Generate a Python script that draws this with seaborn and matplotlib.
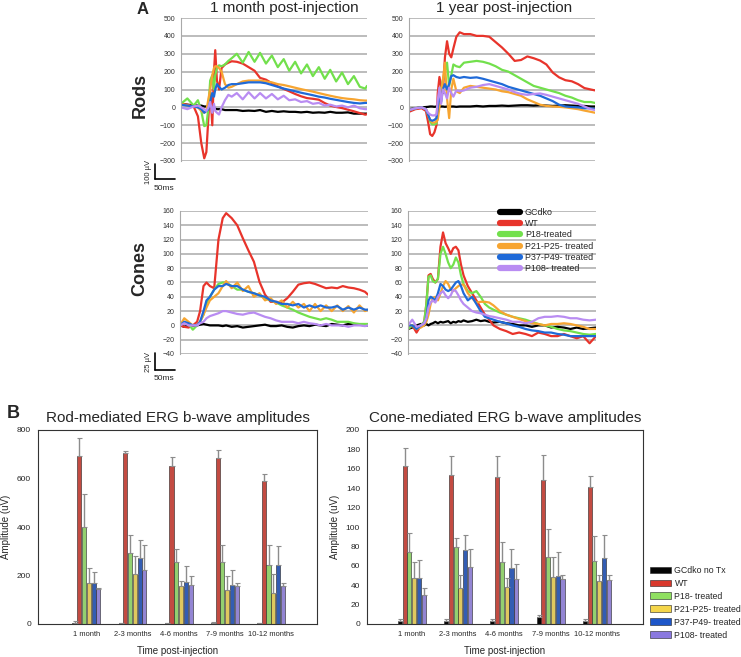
import numpy as np
import pandas as pd
import matplotlib
matplotlib.use("Agg")
import matplotlib.pyplot as plt
import seaborn as sns
from matplotlib.lines import Line2D
from matplotlib.patches import Patch

sns.set_style("white")
plt.rcParams['font.family'] = ['Liberation Sans', 'DejaVu Sans']

W, H = 741, 657

# ---------------- ERG traces (panel A) ----------------
trace_groups = ["GCdko", "WT", "P18-treated", "P21-P25- treated", "P37-P49- treated", "P108- treated"]
trace_colors = ["#000000", "#e8342b", "#72e04c", "#f7a531", "#1f6ad8", "#b98cf2"]

# rods, 1 month post-injection (time in ms, amplitude in uV)
t_rod_1mo = [0, 15, 30, 40, 48, 55, 60, 65, 69, 74, 78, 81, 85, 90, 96, 104, 112, 120, 132, 146, 160, 174, 187, 201,
             215, 229, 243, 256, 270, 284, 298, 312, 326, 340, 353, 367, 381, 395, 409, 423, 436, 440]
rod_1mo_gcdko = [20, 15, 12, 10, 10, 5, 5, 0, 0, -5, -5, -8, -10, -10, -10, -15, -15, -15, -15, -20, -18, -20, -15, -25,
                 -20, -25, -22, -25, -25, -28, -25, -30, -28, -30, -25, -30, -30, -28, -35, -35, -35, -35]
rod_1mo_wt = [20, 15, 5, -50, -200, -285, -250, -50, 100, -100, 200, 320, 150, 100, 220, 240, 250, 258, 255, 245, 225, 205,
              165, 155, 135, 118, 103, 90, 75, 62, 52, 48, 43, 24, 10, 2, -4, -13, -22, -32, -41, -38]
rod_1mo_p18 = [20, 50, 10, 40, -20, -105, -100, 0, 150, 180, 100, 180, 220, 235, 230, 240, 260, 275, 300, 250, 310, 255,
               305, 245, 290, 225, 270, 205, 255, 190, 240, 175, 225, 160, 210, 145, 195, 130, 175, 115, 105, 120]
rod_1mo_p21 = [20, 10, 5, 0, -20, -30, -20, 50, 100, 180, 220, 230, 230, 220, 200, 130, 110, 115, 130, 145, 150, 150,
               150, 145, 140, 130, 125, 118, 110, 102, 95, 88, 80, 72, 65, 58, 52, 48, 45, 40, 38, 38]
rod_1mo_p37 = [15, 10, 5, 0, -10, -30, -20, -10, 30, 80, 60, 100, 130, 115, 100, 110, 125, 130, 130, 135, 140, 140,
               140, 135, 125, 115, 105, 98, 90, 82, 75, 68, 60, 55, 48, 42, 36, 30, 25, 22, 25, 25]
rod_1mo_p108 = [0, -10, 5, 10, 0, -10, -20, 0, 30, -30, 20, -20, -30, -40, 0, 40, 70, 60, 80, 45, 85, 50, 80, 50, 75,
                45, 65, 40, 45, 30, 35, 20, 25, 10, 15, 5, 10, 0, 10, -5, -10, -10]

# rods, 1 year post-injection
t_rod_1yr = [0, 15, 30, 40, 45, 50, 55, 60, 65, 68, 72, 76, 80, 85, 90, 95, 100, 105, 112, 120, 130, 145, 160, 175,
             190, 205, 220, 235, 250, 265, 280, 295, 310, 325, 340, 355, 370, 385, 400, 415, 430, 440]
rod_1yr_gcdko = [-10, -5, 0, 2, 3, 5, 5, 3, 5, 5, 3, 5, 5, 3, 5, 5, 5, 5, 3, 5, 5, 5, 8, 5, 8, 8, 10, 8, 10, 12, 12,
                 10, 12, 10, 8, 10, 12, 10, 8, 8, 5, 5]
rod_1yr_wt = [-25, -10, -5, -20, -80, -150, -160, -140, -100, 80, 170, 120, 80, 280, 370, 300, 280, 330, 395, 420, 410,
              410, 400, 400, 395, 365, 335, 300, 260, 265, 285, 275, 262, 240, 195, 168, 152, 146, 130, 108, 100, 95]
rod_1yr_p18 = [-15, -5, 0, -10, -40, -80, -95, -95, -90, -20, 50, 100, 150, 200, 250, 120, 180, 240, 230, 225, 250,
               255, 260, 255, 245, 230, 210, 200, 180, 160, 140, 120, 110, 100, 90, 80, 65, 55, 40, 30, 30, 25]
rod_1yr_p21 = [-15, -5, 0, -10, -40, -70, -85, -85, -80, -70, 0, 80, 150, 250, 50, -60, 100, 160, 90, 80, 110, 120,
               115, 110, 105, 100, 90, 85, 75, 65, 45, 30, 15, 8, 5, 3, 0, -5, -10, -18, -25, -30]
rod_1yr_p37 = [-15, -5, 0, -10, -40, -70, -75, -70, -60, 0, 60, 30, 100, 130, 100, 130, 175, 180, 170, 165, 170, 165,
               168, 160, 150, 140, 130, 115, 105, 95, 85, 75, 65, 50, 35, 15, 5, 2, 0, -5, -5, -10]
rod_1yr_p108 = [-15, -5, 0, -10, -30, -40, -45, -45, -40, 40, 110, 20, 100, 80, 50, 110, 80, 60, 95, 90, 95, 110, 115,
                125, 130, 120, 110, 100, 85, 75, 70, 75, 78, 70, 60, 50, 40, 30, 20, 5, -10, -15]

# cones, 1 month post-injection
t_cone_1mo = [0, 10, 20, 30, 40, 47, 55, 62, 70, 80, 90, 100, 108, 121, 134, 147, 160, 173, 186, 199, 212, 225, 238,
              251, 264, 277, 290, 303, 316, 329, 342, 355, 368, 381, 394, 407, 420, 433, 440]
cone_1mo_gcdko = [0, -2, 0, -1, 0, 1, 2, 1, 0, 0, 0, -1, 0, -2, -1, -3, -2, -1, 0, 1, -1, -1, 0, -2, -3, -1, 0, -1, 1,
                  0, -1, 2, 1, 0, 2, 2, 1, 0, 0]
cone_1mo_wt = [0, -2, -3, 0, 5, 20, 55, 60, 55, 52, 120, 150, 157, 150, 140, 122, 105, 89, 61, 43, 33, 33, 32, 38, 47,
               57, 59, 60, 58, 55, 52, 53, 52, 55, 53, 52, 50, 47, 43]
cone_1mo_p18 = [0, 5, 2, -6, 0, 5, 15, 30, 40, 50, 58, 60, 60, 55, 50, 50, 47, 45, 42, 38, 35, 32, 28, 25, 22, 18, 15,
                12, 10, 8, 10, 8, 5, 5, 5, 3, 2, 2, 2]
cone_1mo_p21 = [0, 10, 5, 0, 0, 5, 15, 25, 35, 40, 45, 55, 62, 52, 60, 48, 55, 40, 45, 35, 38, 30, 35, 25, 33, 25, 30,
                20, 30, 20, 28, 20, 28, 20, 27, 18, 28, 20, 22]
cone_1mo_p37 = [0, 5, 3, 0, 0, 5, 20, 35, 40, 50, 55, 55, 58, 55, 55, 50, 47, 45, 42, 40, 35, 33, 30, 30, 28, 30, 25,
                28, 25, 28, 25, 25, 27, 22, 25, 22, 25, 22, 22]
cone_1mo_p108 = [0, 3, 0, 0, 0, 3, 5, 10, 13, 15, 17, 20, 20, 18, 16, 15, 17, 18, 15, 12, 10, 7, 5, 5, 5, 3, 5, 3, 2,
                 0, 2, 0, 0, 0, -2, 0, 0, -1, 0]

# cones, 1 year post-injection
t_cone_1yr = [0, 10, 20, 30, 38, 43, 48, 53, 58, 64, 70, 76, 82, 88, 94, 100, 106, 112, 118, 124, 130, 140, 150, 160,
              170, 180, 190, 200, 215, 230, 245, 260, 275, 290, 305, 320, 335, 350, 365, 380, 395, 410, 425, 440]
cone_1yr_gcdko = [-5, -3, 0, 2, 0, 2, 0, 2, 3, 5, 3, 5, 4, 5, 6, 3, 5, 4, 6, 5, 7, 5, 6, 8, 6, 7, 5, 4, 5, 3, 2, 0, 0,
                  -2, 0, 0, -3, -2, -3, -5, -3, -5, -4, -3]
cone_1yr_wt = [-5, 0, -10, 0, 5, 30, 70, 72, 65, 60, 65, 110, 130, 115, 108, 100, 108, 110, 105, 85, 70, 55, 45, 35,
               25, 15, 8, 0, -5, -8, -12, -10, -12, -15, -10, -12, -15, -15, -12, -15, -18, -15, -25, -15]
cone_1yr_p18 = [-5, 0, -5, 0, 5, 30, 68, 70, 62, 60, 65, 100, 110, 100, 88, 80, 85, 95, 88, 70, 58, 48, 45, 48, 40,
                30, 25, 22, 18, 15, 12, 10, 8, 5, 2, 0, -2, -5, -7, -8, -10, -12, -13, -12]
cone_1yr_p21 = [0, 0, -5, -3, 0, 5, 15, 30, 38, 40, 35, 45, 55, 62, 58, 50, 48, 52, 55, 57, 57, 45, 38, 32, 33, 33,
                32, 28, 20, 15, 12, 9, 6, 3, 2, 0, 2, 2, 3, 2, 0, -2, -5, -5]
cone_1yr_p37 = [0, 0, -5, 0, 3, 10, 35, 40, 38, 35, 45, 58, 55, 50, 48, 50, 55, 60, 62, 55, 45, 35, 40, 30, 20, 12,
                10, 8, 5, 3, 0, -2, -5, -7, -8, -10, -10, -12, -13, -15, -15, -15, -15, -15]
cone_1yr_p108 = [0, 8, -2, 0, 3, 10, 25, 32, 35, 32, 40, 45, 48, 42, 38, 42, 50, 48, 42, 35, 30, 25, 20, 18, 17, 15,
                 13, 12, 10, 8, 5, 5, 3, 5, 10, 12, 12, 13, 12, 10, 10, 8, 7, 8]

# ---------------- b-wave amplitudes (panel B) ----------------
time_labels = ["1 month", "2-3 months", "4-6 months", "7-9 months", "10-12 months"]
bar_groups = ["GCdko no Tx", "WT", "P18- treated", "P21-P25- treated", "P37-P49- treated", "P108- treated"]
bar_colors = ["#050505", "#d9382c", "#8fe060", "#f4d54a", "#1d56c9", "#8a78e0"]

rod_gcdko = [6, 3, 3, 5, 3]
rod_wt = [693, 705, 650, 683, 589]
rod_p18 = [399, 292, 257, 257, 244]
rod_p21 = [169, 207, 158, 140, 129]
rod_p37 = [169, 273, 172, 162, 244]
rod_p108 = [145, 224, 162, 155, 158]
rod_err_gcdko = [5, 2, 2, 2, 2]
rod_err_wt = [75, 7, 37, 33, 28]
rod_err_p18 = [136, 74, 54, 68, 81]
rod_err_p21 = [61, 73, 19, 56, 78]
rod_err_p37 = [45, 73, 69, 62, 77]
rod_err_p108 = [2, 101, 38, 14, 11]

cone_gcdko = [3.4, 3.4, 2.7, 7, 3.4]
cone_wt = [163, 154, 152, 148, 141]
cone_p18 = [74, 79, 64, 69, 65]
cone_p21 = [47, 37, 38, 48, 44]
cone_p37 = [47, 76, 58, 50, 68]
cone_p108 = [30, 59, 46, 46, 45]
cone_err_gcdko = [2, 2, 2, 2, 2]
cone_err_wt = [18, 19, 21, 26, 12]
cone_err_p18 = [20, 10, 21, 29, 26]
cone_err_p21 = [17, 14, 9, 21, 7]
cone_err_p37 = [19, 16, 19, 24, 24]
cone_err_p108 = [7, 18, 16, 5, 6]


def rect(left, top, right, bottom):
    # pixel box -> figure fraction
    return [left / W, 1 - bottom / H, (right - left) / W, (bottom - top) / H]


def fx(x):
    return x / W


def fy(y):
    return 1 - y / H


fig = plt.figure(figsize=(W / 100, H / 100), dpi=100)


def draw_traces(box, t, series, ymin, ymax, step):
    ax = fig.add_axes(rect(*box))
    frames = [pd.DataFrame({"t": t, "v": vals, "group": g}) for g, vals in zip(trace_groups, series)]
    df = pd.concat(frames, ignore_index=True)
    sns.lineplot(data=df, x="t", y="v", hue="group", hue_order=trace_groups, palette=trace_colors,
                 estimator=None, sort=False, legend=False, linewidth=1.6, ax=ax)
    ax.set_xlim(0, 440)
    ax.set_ylim(ymin, ymax)
    ax.set_yticks(range(ymin, ymax + 1, step))
    ax.yaxis.grid(True, color="#a9a9a9", linewidth=1.1)
    ax.set_axisbelow(True)
    ax.set_xticks([])
    ax.set_xlabel("")
    ax.set_ylabel("")
    for s in ["top", "right", "bottom"]:
        ax.spines[s].set_visible(False)
    ax.spines["left"].set_color("#a9a9a9")
    ax.tick_params(axis="y", length=0, labelsize=5, colors="#333333", pad=4)
    return ax


draw_traces((181, 18, 367, 161), t_rod_1mo,
            [rod_1mo_gcdko, rod_1mo_wt, rod_1mo_p18, rod_1mo_p21, rod_1mo_p37, rod_1mo_p108], -300, 500, 100)
draw_traces((409, 18, 595, 161), t_rod_1yr,
            [rod_1yr_gcdko, rod_1yr_wt, rod_1yr_p18, rod_1yr_p21, rod_1yr_p37, rod_1yr_p108], -300, 500, 100)
draw_traces((180, 211, 368, 354), t_cone_1mo,
            [cone_1mo_gcdko, cone_1mo_wt, cone_1mo_p18, cone_1mo_p21, cone_1mo_p37, cone_1mo_p108], -40, 160, 20)
draw_traces((408, 211, 596, 354), t_cone_1yr,
            [cone_1yr_gcdko, cone_1yr_wt, cone_1yr_p18, cone_1yr_p21, cone_1yr_p37, cone_1yr_p108], -40, 160, 20)

# trace legend
trace_handles = [Line2D([], [], color=c, linewidth=4.5) for c in trace_colors]
fig.legend(trace_handles, trace_groups, loc="upper left", bbox_to_anchor=(fx(500), fy(208)), frameon=False,
           fontsize=6.4, handlelength=2.2, labelspacing=0.25, handletextpad=0.6, borderpad=0, borderaxespad=0)

# titles and labels of panel A
fig.text(fx(143), fy(10), "A", fontsize=12, fontweight="bold", ha="center", va="center")
fig.text(fx(284), fy(8), "1 month post-injection", fontsize=11, ha="center", va="center")
fig.text(fx(504), fy(8), "1 year post-injection", fontsize=11, ha="center", va="center")
fig.text(fx(140), fy(95), "Rods", fontsize=13, fontweight="bold", rotation=90, ha="center", va="center")
fig.text(fx(140), fy(268), "Cones", fontsize=13, fontweight="bold", rotation=90, ha="center", va="center")

# scale bars
for top, bottom, vlabel, ms_y in [(164, 179, "100 µV", 188), (353, 370, "25 µV", 379)]:
    fig.add_artist(Line2D([fx(155), fx(155)], [fy(top), fy(bottom)], color="black", linewidth=1.2,
                          transform=fig.transFigure))
    fig.add_artist(Line2D([fx(155), fx(175)], [fy(bottom), fy(bottom)], color="black", linewidth=1.2,
                          transform=fig.transFigure))
    fig.text(fx(148), fy((top + bottom) / 2), vlabel, fontsize=5.5, rotation=90, ha="center", va="center")
    fig.text(fx(164), fy(ms_y), "50ms", fontsize=6, ha="center", va="center")


# ---------------- bar charts ----------------
def draw_bars(box, means, errs, ymax, step, title, xlim):
    ax = fig.add_axes(rect(*box))
    rows = []
    for g, vals in zip(bar_groups, means):
        for lab, v in zip(time_labels, vals):
            rows.append({"time": lab, "group": g, "amp": v})
    df = pd.DataFrame(rows)
    sns.barplot(data=df, x="time", y="amp", hue="group", order=time_labels, hue_order=bar_groups,
                palette=bar_colors, width=0.62, gap=0.15, edgecolor="#222222", linewidth=0.4,
                errorbar=None, legend=False, ax=ax)
    for cont, err in zip(ax.containers, errs):
        for bar, e in zip(cont, err):
            x = bar.get_x() + bar.get_width() / 2
            ax.errorbar(x, bar.get_height(), yerr=[[0], [e]], fmt="none", ecolor="#8c8c8c",
                        elinewidth=1.0, capsize=1.8, capthick=0.8)
    ax.set_xlim(*xlim)
    ax.set_ylim(0, ymax)
    ax.set_yticks(range(0, ymax + 1, step))
    for s in ax.spines.values():
        s.set_color("#333333")
        s.set_linewidth(0.8)
    ax.tick_params(axis="y", direction="out", length=3, width=0.6, labelsize=6, pad=2)
    ax.tick_params(axis="x", length=0, labelsize=5.4, pad=5)
    ax.set_ylabel("Amplitude (uV)", fontsize=7, labelpad=4)
    ax.set_xlabel("Time post-injection", fontsize=7, labelpad=6)
    ax.set_title(title, fontsize=11, pad=6)
    return ax


draw_bars((38, 430, 317, 624), [rod_gcdko, rod_wt, rod_p18, rod_p21, rod_p37, rod_p108],
          [rod_err_gcdko, rod_err_wt, rod_err_p18, rod_err_p21, rod_err_p37, rod_err_p108],
          800, 200, "Rod-mediated ERG b-wave amplitudes", (-1.05, 5.0))
draw_bars((367, 430, 643, 624), [cone_gcdko, cone_wt, cone_p18, cone_p21, cone_p37, cone_p108],
          [cone_err_gcdko, cone_err_wt, cone_err_p18, cone_err_p21, cone_err_p37, cone_err_p108],
          200, 20, "Cone-mediated ERG b-wave amplitudes", (-0.97, 5.0))

fig.text(fx(13), fy(413), "B", fontsize=13, fontweight="bold", ha="center", va="center")

bar_handles = [Patch(facecolor=c, edgecolor="#222222", linewidth=0.4) for c in bar_colors]
fig.legend(bar_handles, bar_groups, loc="upper left", bbox_to_anchor=(fx(650), fy(566)), frameon=False,
           fontsize=6.3, handlelength=2.4, handleheight=0.8, labelspacing=0.45, handletextpad=0.4,
           borderpad=0, borderaxespad=0)

fig.savefig("out.png", dpi=100)
